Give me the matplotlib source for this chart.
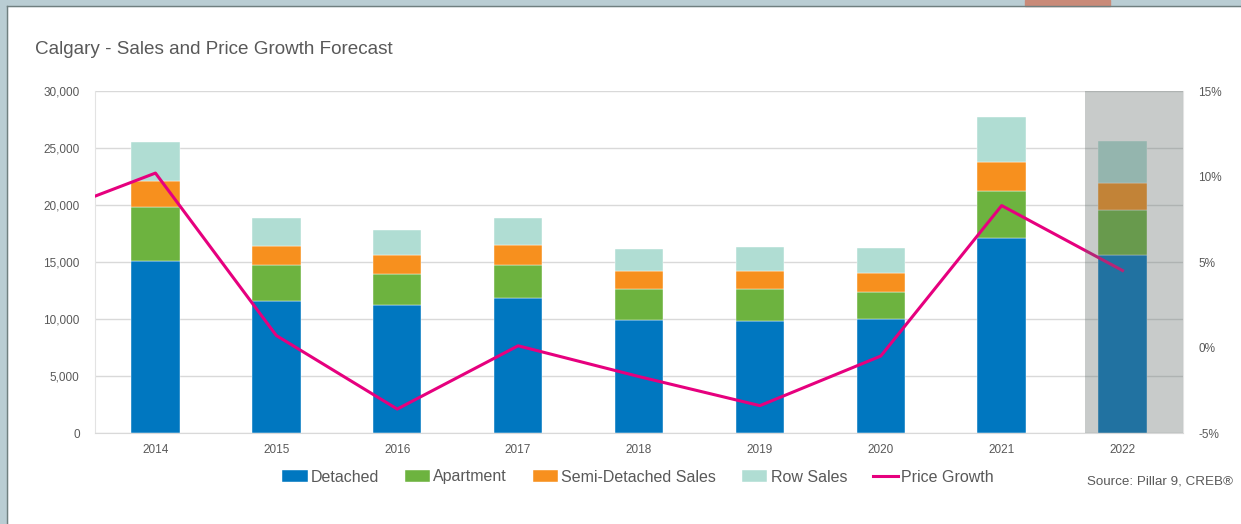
import numpy as np
import matplotlib.pyplot as plt
from matplotlib.patches import Rectangle
from matplotlib.ticker import FuncFormatter, MultipleLocator

plt.rcParams['font.family'] = ['Liberation Sans', 'DejaVu Sans']

years = ['2014', '2015', '2016', '2017', '2018', '2019', '2020', '2021', '2022']
detached = [15100, 11600, 11200, 11850, 9900, 9850, 10000, 17100, 15600]
apartment = [4700, 3150, 2750, 2900, 2700, 2750, 2350, 4100, 3950]
semi = [2300, 1650, 1650, 1750, 1600, 1650, 1650, 2550, 2350]
row = [3400, 2450, 2200, 2350, 1900, 2100, 2200, 3950, 3700]
# price growth (%), first value is 2013 (only its slope shows, clipped at left edge)
price_years = ['2013'] + years
price_growth = [7.5, 10.2, 0.7, -3.6, 0.1, -1.7, -3.4, -0.5, 8.3, 4.5]

txt = '#595959'
c_det, c_apt, c_semi, c_row, c_line = '#0077c0', '#6db33f', '#f7901e', '#b0ddd3', '#e6007e'

fig = plt.figure(figsize=(12.41, 5.24), dpi=100)

# screenshot frame
fig.patches.append(Rectangle((0, 0), 7 / 1241, 1, transform=fig.transFigure, color='#b9cdd3', zorder=0))
fig.patches.append(Rectangle((0, 1 - 6 / 524), 1, 6 / 524, transform=fig.transFigure, color='#b9cdd3', zorder=0))
fig.patches.append(Rectangle((1025 / 1241, 1 - 6 / 524), 85 / 1241, 6 / 524, transform=fig.transFigure, color='#c98a78', zorder=0))
fig.add_artist(plt.Line2D([7 / 1241, 7 / 1241], [0, 1 - 6 / 524], color='#6f7f7f', lw=1))
fig.add_artist(plt.Line2D([7 / 1241, 1], [1 - 6 / 524, 1 - 6 / 524], color='#6f7f7f', lw=1))

ax = fig.add_axes([95 / 1241, 1 - 433 / 524, 1088 / 1241, 342 / 524])
x = np.arange(len(years))
w = 0.4
b1 = np.array(detached)
b2 = b1 + np.array(apartment)
b3 = b2 + np.array(semi)
ax.bar(x, detached, w, color=c_det, edgecolor='white', lw=0.3, label='Detached', zorder=2)
ax.bar(x, apartment, w, bottom=b1, color=c_apt, edgecolor='white', lw=0.3, label='Apartment', zorder=2)
ax.bar(x, semi, w, bottom=b2, color=c_semi, edgecolor='white', lw=0.3, label='Semi-Detached Sales', zorder=2)
ax.bar(x, row, w, bottom=b3, color=c_row, edgecolor='white', lw=0.3, label='Row Sales', zorder=2)

ax.set_xlim(-0.5, len(years) - 0.5)
ax.set_ylim(0, 30000)
ax.yaxis.set_major_locator(MultipleLocator(5000))
ax.yaxis.set_major_formatter(FuncFormatter(lambda v, p: f'{int(v):,}'))
ax.set_xticks(x)
ax.set_xticklabels(years)
ax.grid(axis='y', color='#d9d9d9', lw=1, zorder=0)
ax.set_axisbelow(True)
for s in ['left', 'right', 'top']:
    ax.spines[s].set_color('#e3e3e3')
ax.spines['top'].set_visible(False)
ax.spines['bottom'].set_color('#d9d9d9')
ax.tick_params(axis='both', length=0, labelsize=8.5, labelcolor=txt)
ax.tick_params(axis='y', pad=11)
ax.tick_params(axis='x', pad=8)

ax2 = ax.twinx()
ax2.plot(np.arange(-1, len(years)), price_growth, color=c_line, lw=2.2, label='Price Growth', zorder=3)
ax2.set_ylim(-5, 15)
ax2.yaxis.set_major_locator(MultipleLocator(5))
ax2.yaxis.set_major_formatter(FuncFormatter(lambda v, p: f'{int(v)}%'))
ax2.tick_params(axis='y', length=0, labelsize=8.5, labelcolor=txt, pad=11)
for s in ax2.spines.values():
    s.set_visible(False)
# forecast shading over 2022
ax2.axvspan(7.69, 8.5, color='#606b68', alpha=0.345, lw=0, zorder=5)

fig.text(35 / 1241, 1 - 49 / 524, 'Calgary - Sales and Price Growth Forecast', fontsize=13.6,
         color=txt, va='center', ha='left')

h1, l1 = ax.get_legend_handles_labels()
h2, l2 = ax2.get_legend_handles_labels()
fig.legend(h1 + h2, l1 + l2, loc='center', bbox_to_anchor=(638 / 1241, 1 - 477 / 524), ncol=5,
           frameon=False, fontsize=11.5, labelcolor=txt, handlelength=1.6, handleheight=0.7,
           handletextpad=0.2, columnspacing=1.6)

fig.text(1087 / 1241, 1 - 481 / 524, 'Source: Pillar 9, CREB®', fontsize=9.6, color=txt, va='center', ha='left')

fig.savefig('out.png', dpi=100)
